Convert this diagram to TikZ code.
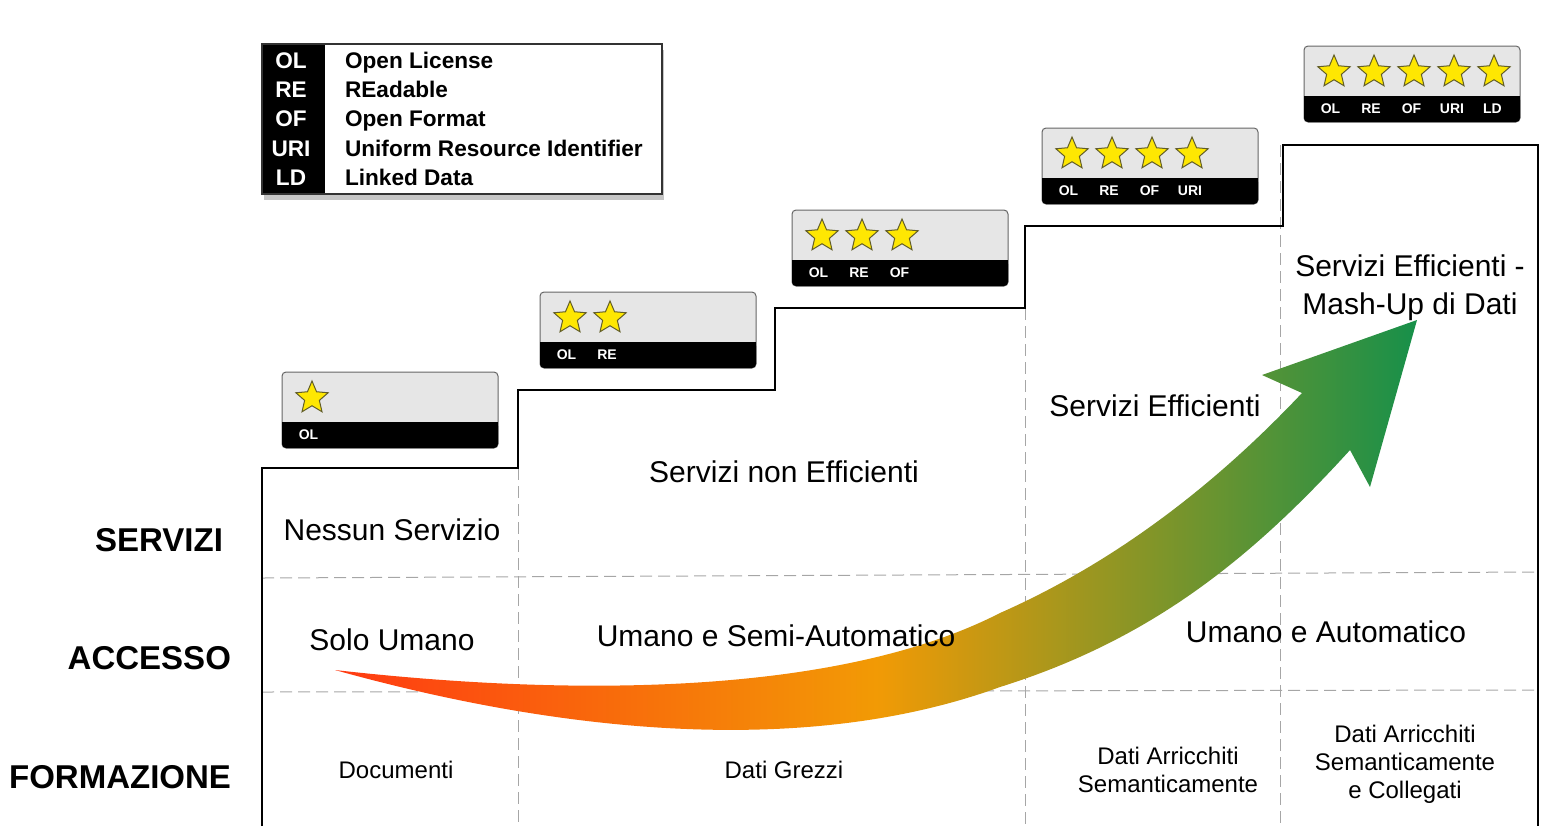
\documentclass[tikz,border=0pt]{standalone}
\usepackage{fontspec}
\setmainfont{Liberation Sans}
\usetikzlibrary{shapes.geometric,shadows}
\definecolor{boxgrey}{HTML}{E6E6E6}
\definecolor{arA}{HTML}{FF3A12}
\definecolor{arB}{HTML}{F29A05}
\definecolor{arC}{HTML}{17904A}
\begin{document}
\begin{tikzpicture}[x=0.5pt,y=-0.5pt,
  dline/.style={gray!70,dashed,dash pattern=on 6pt off 3pt,line width=0.5pt},
  cell/.style={font=\fontsize{15}{17}\selectfont,align=center},
  small/.style={font=\fontsize{12}{14}\selectfont,align=center},
  row/.style={font=\bfseries\fontsize{16.5}{19}\selectfont,anchor=east},
  st/.style={star,star points=5,star point ratio=2.2,minimum size=17pt,inner sep=0pt,fill=yellow!90!orange,draw=olive!60!black,line width=0.5pt},
  tag/.style={font=\bfseries\fontsize{7}{7}\selectfont,text=white},
  lg/.style={anchor=base,font=\bfseries\fontsize{11.3}{13}\selectfont}]
\useasboundingbox (0,0) rectangle (1546,826);
% grid
\draw[dline] (262,578) -- (1538,572);
\draw[dline] (262,692) -- (1538,690);
\draw[dline] (518,468) -- (518,826);
\draw[dline] (1025,308) -- (1025,826);
\draw[dline] (1280,145) -- (1280,826);
\draw[line width=0.8pt] (262,826) -- (262,468) -- (518,468) -- (518,390) -- (775,390) -- (775,308) -- (1025,308) -- (1025,226) -- (1283,226) -- (1283,145) -- (1538,145) -- (1538,826);
% row labels
\node[row] (r1) at (230,540) {SERVIZI};
\node[row] (r2) at (238,658) {ACCESSO};
\node[row] (r3) at (238,777) {FORMAZIONE};
% cells
\node[cell] (c1) at (392,530) {Nessun Servizio};
\node[cell] (c2) at (784,472) {Servizi non Efficienti};
\node[cell] (c3) at (1155,406) {Servizi Efficienti};
\node[cell] (c4) at (1410,288) {Servizi Efficienti -\\[2pt]Mash-Up di Dati};
\node[cell] (a1) at (392,640) {Solo Umano};
% arrow
\shade[left color=arA, right color=arC, middle color=arB]
 (335,670) .. controls (600,700) and (850,690) .. (1000,613)
 .. controls (1120,560) and (1220,480) .. (1302,393)
 -- (1262,375) -- (1417,320) -- (1370,487) -- (1350,450)
 .. controls (1250,560) and (1150,640) .. (1000,687)
 .. controls (800,760) and (550,730) .. (335,670) -- cycle;
\node[cell] (a2) at (776,636) {Umano e Semi-Automatico};
\node[cell] (a3) at (1326,632) {Umano e Automatico};
\node[small] (f1) at (396,770) {Documenti};
\node[small] (f2) at (784,770) {Dati Grezzi};
\node[small] (f3) at (1168,770) {Dati Arricchiti\\Semanticamente};
\node[small] (f4) at (1405,764) {Dati Arricchiti\\Semanticamente\\e Collegati};
% legend
\node[draw=black!80,line width=0.8pt,fill=white,drop shadow={shadow xshift=1pt,shadow yshift=-3pt,opacity=0.45},minimum width=200pt,minimum height=75pt,inner sep=0pt] (leg) at (462,119) {};
\fill (263,45) rectangle (325,193);
\foreach \a/\b [count=\i] in {OL/Open License,RE/REadable,OF/Open Format,URI/Uniform Resource Identifier,LD/Linked Data}{
  \node[lg,text=white] (la\i) at (291,39+\i*29.3) {\a};
  \node[lg,anchor=base west] (lb\i) at (338,39+\i*29.3) {\b};
}
% star boxes
\foreach \x/\y/\n/\lab in {282/372/1/{OL},540/292/2/{OL,RE},792/210/3/{OL,RE,OF},1042/128/4/{OL,RE,OF,URI},1304/46/5/{OL,RE,OF,URI,LD}}{
  \begin{scope}[shift={(\x,\y)}]
  \filldraw[fill=boxgrey,draw=black!60,line width=0.5pt,rounded corners=2pt] (0,0) rectangle (216,76);
  \fill[black,rounded corners=2pt] (0,50) rectangle (216,76);
  \fill[black] (0,50) rectangle (216,60);
  \foreach \k in {1,...,\n}{\node[st] (s\n\k) at (-10+\k*40,26) {};}
  \foreach \t [count=\k] in \lab {\node[tag] (t\n\k) at (-14+\k*40.5,63) {\t};}
  \end{scope}
}
\end{tikzpicture}
\end{document}
